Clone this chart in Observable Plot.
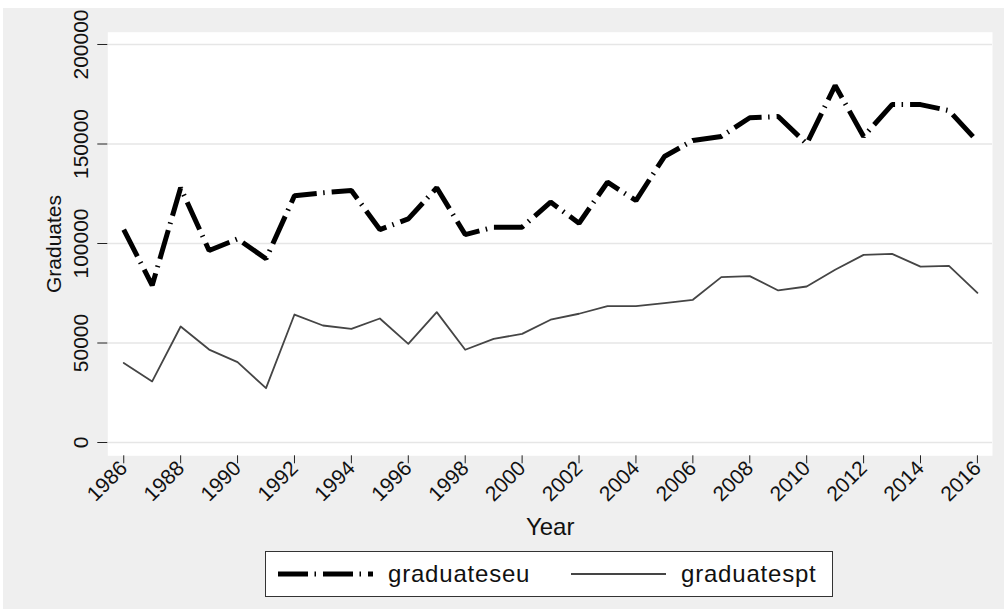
<!DOCTYPE html>
<html>
<head>
<meta charset="utf-8">
<script src="https://cdn.jsdelivr.net/npm/d3@7"></script>
<script src="https://cdn.jsdelivr.net/npm/@observablehq/plot@0.6"></script>
<style>
  html, body { margin: 0; padding: 0; background: #ffffff; width: 1004px; height: 609px; overflow: hidden; }
  body { font-family: "Liberation Sans", Arial, sans-serif; position: relative; }
  #bg { position: absolute; left: 3px; top: 8px; width: 1001px; height: 601px; background: #efefef; }
  #chart { position: absolute; left: 0; top: 0; }
  #legend { position: absolute; left: 265px; top: 551px; width: 568px; height: 46px; box-sizing: border-box;
            border: 1px solid #333; background: #fff; }
  #legend .item { position: absolute; top: 0; height: 44px; display: flex; align-items: center;
                  font-size: 24px; letter-spacing: 0.8px; color: #111; }
  #legend svg { position: absolute; top: 0; }
</style>
</head>
<body>
<div id="bg"></div>
<div id="chart"></div>
<div id="legend"></div>
<script>
// ---- data ----
const years = [1986, 1987, 1988, 1989, 1990, 1991, 1992, 1993, 1994, 1995, 1996, 1997, 1998, 1999, 2000,
               2001, 2002, 2003, 2004, 2005, 2006, 2007, 2008, 2009, 2010, 2011, 2012, 2013, 2014, 2015, 2016];
const graduateseu = [107000, 79000, 128000, 96500, 102300, 92300, 124000, 125500, 126600, 107000, 112400,
                     128000, 104500, 108200, 108200, 120800, 110200, 130800, 121600, 143700, 151800,
                     153800, 163200, 163800, 150100, 179400, 153800, 169800, 169800, 166800, 151300];
const graduatespt = [40000, 30700, 58300, 46700, 40400, 27300, 64300, 58800, 57100, 62300, 49600,
                     65500, 46600, 52100, 54600, 61700, 64700, 68500, 68500, 70000, 71700,
                     83100, 83600, 76400, 78400, 86800, 94300, 94800, 88400, 88800, 75200];
const xTicks = [1986, 1988, 1990, 1992, 1994, 1996, 1998, 2000, 2002, 2004, 2006, 2008, 2010, 2012, 2014, 2016];
const yTicks = [0, 50000, 100000, 150000, 200000];
const seriesNames = ["graduateseu", "graduatespt"];
const xTitle = "Year";
const yTitle = "Graduates";

// ---- table ----
const euData = years.map((y, i) => ({year: y, value: graduateseu[i]}));
const ptData = years.map((y, i) => ({year: y, value: graduatespt[i]}));

const font = "Liberation Sans, Arial, sans-serif";
const euDash = "30,6.5,1.5,7";

const W = 1004, H = 545;
const chart = Plot.plot({
  width: W,
  height: H,
  marginLeft: 107.3,
  marginRight: 12,
  marginTop: 31.7,
  marginBottom: H - 455.3,
  style: {background: "transparent", fontFamily: font, color: "#222", overflow: "visible"},
  x: {domain: [1985.44, 2016.53]},
  y: {domain: [-6680, 206180]},
  marks: [
    Plot.frame({fill: "white"}),
    Plot.gridY(yTicks, {stroke: "#e6e6e6", strokeOpacity: 1, strokeWidth: 1.5}),
    Plot.axisY({ticks: yTicks, tickSize: 10, tickFormat: () => "", line: true, stroke: "#222", label: null}),
    Plot.text(yTicks, {y: d => d, text: d => String(d), frameAnchor: "left", dx: -20, rotate: -90,
                       textAnchor: "middle", lineAnchor: "bottom", fontSize: 21, fill: "#111"}),
    Plot.axisX({ticks: xTicks, tickSize: 8, tickRotate: -45, tickPadding: 1, tickFormat: d => String(d),
                fontSize: 21, line: true, stroke: "#222", label: null, color: "#111"}),
    Plot.text([xTitle], {frameAnchor: "bottom", dy: 79, textAnchor: "middle", lineAnchor: "bottom", fontSize: 24, fill: "#111"}),
    Plot.text([yTitle], {frameAnchor: "left", dx: -47, rotate: -90, textAnchor: "middle", lineAnchor: "bottom",
                         fontSize: 21, fill: "#111"}),
    Plot.line(ptData, {x: "year", y: "value", stroke: "#454545", strokeWidth: 1.8}),
    Plot.line(euData, {x: "year", y: "value", stroke: "#000", strokeWidth: 5,
                       strokeDasharray: euDash, strokeLinecap: "butt", strokeLinejoin: "miter"})
  ]
});
document.getElementById("chart").appendChild(chart);

// ---- legend ----
const legend = document.getElementById("legend");
function addItem(left, name, dash, width, color) {
  const ns = "http://www.w3.org/2000/svg";
  const svg = document.createElementNS(ns, "svg");
  svg.setAttribute("width", 95); svg.setAttribute("height", 44);
  svg.style.left = left + "px";
  const ln = document.createElementNS(ns, "line");
  ln.setAttribute("x1", 0); ln.setAttribute("x2", 95);
  ln.setAttribute("y1", 22); ln.setAttribute("y2", 22);
  ln.setAttribute("stroke", color); ln.setAttribute("stroke-width", width);
  if (dash) ln.setAttribute("stroke-dasharray", dash);
  svg.appendChild(ln);
  legend.appendChild(svg);
  const t = document.createElement("div");
  t.className = "item"; t.textContent = name;
  t.style.left = (left + 110) + "px";
  legend.appendChild(t);
}
addItem(12, seriesNames[0], euDash, 5, "#000");
addItem(305, seriesNames[1], null, 1.8, "#454545");
</script>
</body>
</html>
